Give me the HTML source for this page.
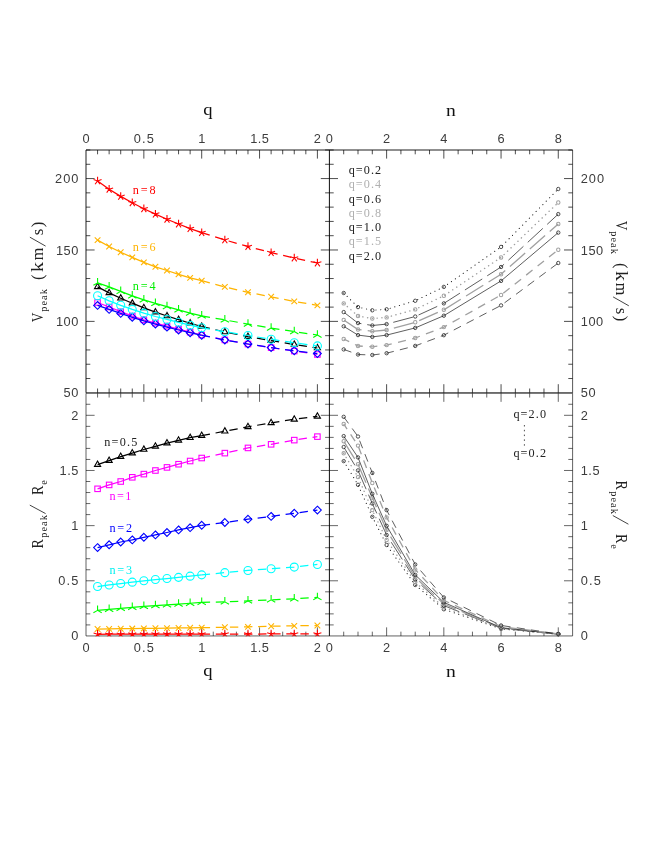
<!DOCTYPE html>
<html><head><meta charset="utf-8"><title>chart</title>
<style>html,body{margin:0;padding:0;background:#fff}svg{display:block}</style>
</head><body>
<svg width="654" height="846" viewBox="0 0 654 846">
<rect width="654" height="846" fill="#fff"/>
<path d="M97.57 150L97.57 154.3M97.57 392.8L97.57 388.5M109.14 150L109.14 154.3M109.14 392.8L109.14 388.5M120.71 150L120.71 154.3M120.71 392.8L120.71 388.5M132.28 150L132.28 154.3M132.28 392.8L132.28 388.5M143.85 150L143.85 158.6M143.85 392.8L143.85 384.2M155.42 150L155.42 154.3M155.42 392.8L155.42 388.5M166.99 150L166.99 154.3M166.99 392.8L166.99 388.5M178.56 150L178.56 154.3M178.56 392.8L178.56 388.5M190.13 150L190.13 154.3M190.13 392.8L190.13 388.5M201.7 150L201.7 158.6M201.7 392.8L201.7 384.2M213.27 150L213.27 154.3M213.27 392.8L213.27 388.5M224.84 150L224.84 154.3M224.84 392.8L224.84 388.5M236.41 150L236.41 154.3M236.41 392.8L236.41 388.5M247.98 150L247.98 154.3M247.98 392.8L247.98 388.5M259.55 150L259.55 158.6M259.55 392.8L259.55 384.2M271.12 150L271.12 154.3M271.12 392.8L271.12 388.5M282.69 150L282.69 154.3M282.69 392.8L282.69 388.5M294.26 150L294.26 154.3M294.26 392.8L294.26 388.5M305.83 150L305.83 154.3M305.83 392.8L305.83 388.5M317.4 150L317.4 158.6M317.4 392.8L317.4 384.2M343.7 150L343.7 154.3M343.7 392.8L343.7 388.5M358.01 150L358.01 154.3M358.01 392.8L358.01 388.5M372.31 150L372.31 154.3M372.31 392.8L372.31 388.5M386.62 150L386.62 158.6M386.62 392.8L386.62 384.2M400.92 150L400.92 154.3M400.92 392.8L400.92 388.5M415.23 150L415.23 154.3M415.23 392.8L415.23 388.5M429.53 150L429.53 154.3M429.53 392.8L429.53 388.5M443.84 150L443.84 158.6M443.84 392.8L443.84 384.2M458.14 150L458.14 154.3M458.14 392.8L458.14 388.5M472.45 150L472.45 154.3M472.45 392.8L472.45 388.5M486.75 150L486.75 154.3M486.75 392.8L486.75 388.5M501.06 150L501.06 158.6M501.06 392.8L501.06 384.2M515.37 150L515.37 154.3M515.37 392.8L515.37 388.5M529.67 150L529.67 154.3M529.67 392.8L529.67 388.5M543.97 150L543.97 154.3M543.97 392.8L543.97 388.5M558.28 150L558.28 158.6M558.28 392.8L558.28 384.2M86 378.52L90.3 378.52M329.4 378.52L325.1 378.52M329.4 378.52L333.7 378.52M572.6 378.52L568.3 378.52M86 364.24L90.3 364.24M329.4 364.24L325.1 364.24M329.4 364.24L333.7 364.24M572.6 364.24L568.3 364.24M86 349.95L90.3 349.95M329.4 349.95L325.1 349.95M329.4 349.95L333.7 349.95M572.6 349.95L568.3 349.95M86 335.67L90.3 335.67M329.4 335.67L325.1 335.67M329.4 335.67L333.7 335.67M572.6 335.67L568.3 335.67M86 321.39L94.6 321.39M329.4 321.39L320.8 321.39M329.4 321.39L338 321.39M572.6 321.39L564 321.39M86 307.11L90.3 307.11M329.4 307.11L325.1 307.11M329.4 307.11L333.7 307.11M572.6 307.11L568.3 307.11M86 292.83L90.3 292.83M329.4 292.83L325.1 292.83M329.4 292.83L333.7 292.83M572.6 292.83L568.3 292.83M86 278.54L90.3 278.54M329.4 278.54L325.1 278.54M329.4 278.54L333.7 278.54M572.6 278.54L568.3 278.54M86 264.26L90.3 264.26M329.4 264.26L325.1 264.26M329.4 264.26L333.7 264.26M572.6 264.26L568.3 264.26M86 249.98L94.6 249.98M329.4 249.98L320.8 249.98M329.4 249.98L338 249.98M572.6 249.98L564 249.98M86 235.7L90.3 235.7M329.4 235.7L325.1 235.7M329.4 235.7L333.7 235.7M572.6 235.7L568.3 235.7M86 221.42L90.3 221.42M329.4 221.42L325.1 221.42M329.4 221.42L333.7 221.42M572.6 221.42L568.3 221.42M86 207.13L90.3 207.13M329.4 207.13L325.1 207.13M329.4 207.13L333.7 207.13M572.6 207.13L568.3 207.13M86 192.85L90.3 192.85M329.4 192.85L325.1 192.85M329.4 192.85L333.7 192.85M572.6 192.85L568.3 192.85M86 178.57L94.6 178.57M329.4 178.57L320.8 178.57M329.4 178.57L338 178.57M572.6 178.57L564 178.57M86 164.29L90.3 164.29M329.4 164.29L325.1 164.29M329.4 164.29L333.7 164.29M572.6 164.29L568.3 164.29M86 150L90.3 150M325.1 150L333.7 150M568.3 150L572.6 150" stroke="#000" stroke-width="0.7" fill="none"/>
<path d="M97.57 393.25L97.57 397.55M97.57 635.95L97.57 631.65M109.14 393.25L109.14 397.55M109.14 635.95L109.14 631.65M120.71 393.25L120.71 397.55M120.71 635.95L120.71 631.65M132.28 393.25L132.28 397.55M132.28 635.95L132.28 631.65M143.85 393.25L143.85 401.85M143.85 635.95L143.85 627.35M155.42 393.25L155.42 397.55M155.42 635.95L155.42 631.65M166.99 393.25L166.99 397.55M166.99 635.95L166.99 631.65M178.56 393.25L178.56 397.55M178.56 635.95L178.56 631.65M190.13 393.25L190.13 397.55M190.13 635.95L190.13 631.65M201.7 393.25L201.7 401.85M201.7 635.95L201.7 627.35M213.27 393.25L213.27 397.55M213.27 635.95L213.27 631.65M224.84 393.25L224.84 397.55M224.84 635.95L224.84 631.65M236.41 393.25L236.41 397.55M236.41 635.95L236.41 631.65M247.98 393.25L247.98 397.55M247.98 635.95L247.98 631.65M259.55 393.25L259.55 401.85M259.55 635.95L259.55 627.35M271.12 393.25L271.12 397.55M271.12 635.95L271.12 631.65M282.69 393.25L282.69 397.55M282.69 635.95L282.69 631.65M294.26 393.25L294.26 397.55M294.26 635.95L294.26 631.65M305.83 393.25L305.83 397.55M305.83 635.95L305.83 631.65M317.4 393.25L317.4 401.85M317.4 635.95L317.4 627.35M343.7 393.25L343.7 397.55M343.7 635.95L343.7 631.65M358.01 393.25L358.01 397.55M358.01 635.95L358.01 631.65M372.31 393.25L372.31 397.55M372.31 635.95L372.31 631.65M386.62 393.25L386.62 401.85M386.62 635.95L386.62 627.35M400.92 393.25L400.92 397.55M400.92 635.95L400.92 631.65M415.23 393.25L415.23 397.55M415.23 635.95L415.23 631.65M429.53 393.25L429.53 397.55M429.53 635.95L429.53 631.65M443.84 393.25L443.84 401.85M443.84 635.95L443.84 627.35M458.14 393.25L458.14 397.55M458.14 635.95L458.14 631.65M472.45 393.25L472.45 397.55M472.45 635.95L472.45 631.65M486.75 393.25L486.75 397.55M486.75 635.95L486.75 631.65M501.06 393.25L501.06 401.85M501.06 635.95L501.06 627.35M515.37 393.25L515.37 397.55M515.37 635.95L515.37 631.65M529.67 393.25L529.67 397.55M529.67 635.95L529.67 631.65M543.97 393.25L543.97 397.55M543.97 635.95L543.97 631.65M558.28 393.25L558.28 401.85M558.28 635.95L558.28 627.35M86 624.92L90.3 624.92M329.4 624.92L325.1 624.92M329.4 624.92L333.7 624.92M572.6 624.92L568.3 624.92M86 613.89L90.3 613.89M329.4 613.89L325.1 613.89M329.4 613.89L333.7 613.89M572.6 613.89L568.3 613.89M86 602.85L90.3 602.85M329.4 602.85L325.1 602.85M329.4 602.85L333.7 602.85M572.6 602.85L568.3 602.85M86 591.82L90.3 591.82M329.4 591.82L325.1 591.82M329.4 591.82L333.7 591.82M572.6 591.82L568.3 591.82M86 580.79L94.6 580.79M329.4 580.79L320.8 580.79M329.4 580.79L338 580.79M572.6 580.79L564 580.79M86 569.76L90.3 569.76M329.4 569.76L325.1 569.76M329.4 569.76L333.7 569.76M572.6 569.76L568.3 569.76M86 558.73L90.3 558.73M329.4 558.73L325.1 558.73M329.4 558.73L333.7 558.73M572.6 558.73L568.3 558.73M86 547.7L90.3 547.7M329.4 547.7L325.1 547.7M329.4 547.7L333.7 547.7M572.6 547.7L568.3 547.7M86 536.66L90.3 536.66M329.4 536.66L325.1 536.66M329.4 536.66L333.7 536.66M572.6 536.66L568.3 536.66M86 525.63L94.6 525.63M329.4 525.63L320.8 525.63M329.4 525.63L338 525.63M572.6 525.63L564 525.63M86 514.6L90.3 514.6M329.4 514.6L325.1 514.6M329.4 514.6L333.7 514.6M572.6 514.6L568.3 514.6M86 503.57L90.3 503.57M329.4 503.57L325.1 503.57M329.4 503.57L333.7 503.57M572.6 503.57L568.3 503.57M86 492.54L90.3 492.54M329.4 492.54L325.1 492.54M329.4 492.54L333.7 492.54M572.6 492.54L568.3 492.54M86 481.5L90.3 481.5M329.4 481.5L325.1 481.5M329.4 481.5L333.7 481.5M572.6 481.5L568.3 481.5M86 470.47L94.6 470.47M329.4 470.47L320.8 470.47M329.4 470.47L338 470.47M572.6 470.47L564 470.47M86 459.44L90.3 459.44M329.4 459.44L325.1 459.44M329.4 459.44L333.7 459.44M572.6 459.44L568.3 459.44M86 448.41L90.3 448.41M329.4 448.41L325.1 448.41M329.4 448.41L333.7 448.41M572.6 448.41L568.3 448.41M86 437.38L90.3 437.38M329.4 437.38L325.1 437.38M329.4 437.38L333.7 437.38M572.6 437.38L568.3 437.38M86 426.35L90.3 426.35M329.4 426.35L325.1 426.35M329.4 426.35L333.7 426.35M572.6 426.35L568.3 426.35M86 415.31L94.6 415.31M329.4 415.31L320.8 415.31M329.4 415.31L338 415.31M572.6 415.31L564 415.31M86 404.28L90.3 404.28M329.4 404.28L325.1 404.28M329.4 404.28L333.7 404.28M572.6 404.28L568.3 404.28" stroke="#000" stroke-width="0.6" fill="none"/>
<path d="M86 392.8L86 150L572.6 150" fill="none" stroke="#000" stroke-width="0.88"/>
<path d="M572.6 150L572.6 392.8" fill="none" stroke="#000" stroke-width="0.66"/>
<path d="M86 393.25L86 635.95L572.6 635.95L572.6 393.25" fill="none" stroke="#000" stroke-width="0.62"/>
<line x1="329.4" y1="150" x2="329.4" y2="635.95" stroke="#000" stroke-width="0.95"/>
<line x1="86" y1="392.8" x2="572.6" y2="392.8" stroke="#000" stroke-width="0.75"/>
<line x1="86" y1="393.25" x2="572.6" y2="393.25" stroke="#000" stroke-width="0.5"/>
<defs><clipPath id="cb"><rect x="86" y="392.8" width="486.6" height="243.55"/></clipPath></defs>
<g>
<polyline points="97.57,286.9 109.14,292.9 120.71,298.27 132.28,303.2 143.85,307.82 155.42,312.1 166.99,316.02 178.56,319.7 190.13,323.23 201.7,326.5" fill="none" stroke="#000000" stroke-width="1.25"/>
<polyline points="201.7,326.5 224.84,332 247.98,336.6 271.12,340.6 294.26,344.5 317.4,348" fill="none" stroke="#000000" stroke-width="1.25" stroke-dasharray="8.4 5.7"/>
<polygon points="97.57,283.35 94.5,288.67 100.64,288.67" fill="none" stroke="#000000" stroke-width="1.1"/>
<polygon points="109.14,289.35 106.07,294.67 112.21,294.67" fill="none" stroke="#000000" stroke-width="1.1"/>
<polygon points="120.71,294.72 117.64,300.05 123.78,300.05" fill="none" stroke="#000000" stroke-width="1.1"/>
<polygon points="132.28,299.65 129.21,304.97 135.35,304.97" fill="none" stroke="#000000" stroke-width="1.1"/>
<polygon points="143.85,304.27 140.78,309.59 146.92,309.59" fill="none" stroke="#000000" stroke-width="1.1"/>
<polygon points="155.42,308.55 152.35,313.88 158.49,313.88" fill="none" stroke="#000000" stroke-width="1.1"/>
<polygon points="166.99,312.47 163.92,317.8 170.06,317.8" fill="none" stroke="#000000" stroke-width="1.1"/>
<polygon points="178.56,316.15 175.49,321.47 181.63,321.47" fill="none" stroke="#000000" stroke-width="1.1"/>
<polygon points="190.13,319.68 187.06,325 193.2,325" fill="none" stroke="#000000" stroke-width="1.1"/>
<polygon points="201.7,322.95 198.63,328.27 204.77,328.27" fill="none" stroke="#000000" stroke-width="1.1"/>
<polygon points="224.84,328.45 221.77,333.77 227.91,333.77" fill="none" stroke="#000000" stroke-width="1.1"/>
<polygon points="247.98,333.05 244.91,338.38 251.05,338.38" fill="none" stroke="#000000" stroke-width="1.1"/>
<polygon points="271.12,337.05 268.05,342.38 274.19,342.38" fill="none" stroke="#000000" stroke-width="1.1"/>
<polygon points="294.26,340.95 291.19,346.27 297.33,346.27" fill="none" stroke="#000000" stroke-width="1.1"/>
<polygon points="317.4,344.45 314.33,349.77 320.47,349.77" fill="none" stroke="#000000" stroke-width="1.1"/>
<polyline points="97.57,302.5 109.14,307 120.71,311.7 132.28,316.1 143.85,319.83 155.42,323.1 166.99,326.19 178.56,329.2 190.13,332.17 201.7,335" fill="none" stroke="#ff00ff" stroke-width="1.25"/>
<polyline points="201.7,335 224.84,339.93 247.98,344.05 271.12,347.66 294.26,351.04 317.4,354.5" fill="none" stroke="#ff00ff" stroke-width="1.25" stroke-dasharray="8.4 5.7"/>
<rect x="94.82" y="299.75" width="5.5" height="5.5" fill="none" stroke="#ff00ff" stroke-width="1.1"/>
<rect x="106.39" y="304.25" width="5.5" height="5.5" fill="none" stroke="#ff00ff" stroke-width="1.1"/>
<rect x="117.96" y="308.95" width="5.5" height="5.5" fill="none" stroke="#ff00ff" stroke-width="1.1"/>
<rect x="129.53" y="313.35" width="5.5" height="5.5" fill="none" stroke="#ff00ff" stroke-width="1.1"/>
<rect x="141.1" y="317.08" width="5.5" height="5.5" fill="none" stroke="#ff00ff" stroke-width="1.1"/>
<rect x="152.67" y="320.35" width="5.5" height="5.5" fill="none" stroke="#ff00ff" stroke-width="1.1"/>
<rect x="164.24" y="323.44" width="5.5" height="5.5" fill="none" stroke="#ff00ff" stroke-width="1.1"/>
<rect x="175.81" y="326.45" width="5.5" height="5.5" fill="none" stroke="#ff00ff" stroke-width="1.1"/>
<rect x="187.38" y="329.42" width="5.5" height="5.5" fill="none" stroke="#ff00ff" stroke-width="1.1"/>
<rect x="198.95" y="332.25" width="5.5" height="5.5" fill="none" stroke="#ff00ff" stroke-width="1.1"/>
<rect x="222.09" y="337.18" width="5.5" height="5.5" fill="none" stroke="#ff00ff" stroke-width="1.1"/>
<rect x="245.23" y="341.3" width="5.5" height="5.5" fill="none" stroke="#ff00ff" stroke-width="1.1"/>
<rect x="268.37" y="344.91" width="5.5" height="5.5" fill="none" stroke="#ff00ff" stroke-width="1.1"/>
<rect x="291.51" y="348.29" width="5.5" height="5.5" fill="none" stroke="#ff00ff" stroke-width="1.1"/>
<rect x="314.65" y="351.75" width="5.5" height="5.5" fill="none" stroke="#ff00ff" stroke-width="1.1"/>
<polyline points="97.57,305.4 109.14,309.4 120.71,313.43 132.28,317.3 143.85,320.84 155.42,324.1 166.99,327.14 178.56,330 190.13,332.72 201.7,335.3" fill="none" stroke="#0000ff" stroke-width="1.25"/>
<polyline points="201.7,335.3 224.84,340 247.98,344 271.12,347.6 294.26,350.8 317.4,353.6" fill="none" stroke="#0000ff" stroke-width="1.25" stroke-dasharray="8.4 5.7"/>
<polygon points="97.57,301.5 101.47,305.4 97.57,309.3 93.67,305.4" fill="none" stroke="#0000ff" stroke-width="1.1"/>
<polygon points="109.14,305.5 113.04,309.4 109.14,313.3 105.24,309.4" fill="none" stroke="#0000ff" stroke-width="1.1"/>
<polygon points="120.71,309.53 124.61,313.43 120.71,317.33 116.81,313.43" fill="none" stroke="#0000ff" stroke-width="1.1"/>
<polygon points="132.28,313.4 136.18,317.3 132.28,321.2 128.38,317.3" fill="none" stroke="#0000ff" stroke-width="1.1"/>
<polygon points="143.85,316.94 147.75,320.84 143.85,324.74 139.95,320.84" fill="none" stroke="#0000ff" stroke-width="1.1"/>
<polygon points="155.42,320.2 159.32,324.1 155.42,328 151.52,324.1" fill="none" stroke="#0000ff" stroke-width="1.1"/>
<polygon points="166.99,323.24 170.89,327.14 166.99,331.04 163.09,327.14" fill="none" stroke="#0000ff" stroke-width="1.1"/>
<polygon points="178.56,326.1 182.46,330 178.56,333.9 174.66,330" fill="none" stroke="#0000ff" stroke-width="1.1"/>
<polygon points="190.13,328.82 194.03,332.72 190.13,336.62 186.23,332.72" fill="none" stroke="#0000ff" stroke-width="1.1"/>
<polygon points="201.7,331.4 205.6,335.3 201.7,339.2 197.8,335.3" fill="none" stroke="#0000ff" stroke-width="1.1"/>
<polygon points="224.84,336.1 228.74,340 224.84,343.9 220.94,340" fill="none" stroke="#0000ff" stroke-width="1.1"/>
<polygon points="247.98,340.1 251.88,344 247.98,347.9 244.08,344" fill="none" stroke="#0000ff" stroke-width="1.1"/>
<polygon points="271.12,343.7 275.02,347.6 271.12,351.5 267.22,347.6" fill="none" stroke="#0000ff" stroke-width="1.1"/>
<polygon points="294.26,346.9 298.16,350.8 294.26,354.7 290.36,350.8" fill="none" stroke="#0000ff" stroke-width="1.1"/>
<polygon points="317.4,349.7 321.3,353.6 317.4,357.5 313.5,353.6" fill="none" stroke="#0000ff" stroke-width="1.1"/>
<polyline points="97.57,295.8 109.14,300.8 120.71,305.31 132.28,309.4 143.85,313.14 155.42,316.5 166.99,319.47 178.56,322.3 190.13,325.18 201.7,327.8" fill="none" stroke="#00ffff" stroke-width="1.25"/>
<polyline points="201.7,327.8 224.84,331.7 247.98,335.5 271.12,339.2 294.26,342.8 317.4,345.9" fill="none" stroke="#00ffff" stroke-width="1.25" stroke-dasharray="8.4 5.7"/>
<circle cx="97.57" cy="295.8" r="4" fill="none" stroke="#00ffff" stroke-width="1.1"/>
<circle cx="109.14" cy="300.8" r="4" fill="none" stroke="#00ffff" stroke-width="1.1"/>
<circle cx="120.71" cy="305.31" r="4" fill="none" stroke="#00ffff" stroke-width="1.1"/>
<circle cx="132.28" cy="309.4" r="4" fill="none" stroke="#00ffff" stroke-width="1.1"/>
<circle cx="143.85" cy="313.14" r="4" fill="none" stroke="#00ffff" stroke-width="1.1"/>
<circle cx="155.42" cy="316.5" r="4" fill="none" stroke="#00ffff" stroke-width="1.1"/>
<circle cx="166.99" cy="319.47" r="4" fill="none" stroke="#00ffff" stroke-width="1.1"/>
<circle cx="178.56" cy="322.3" r="4" fill="none" stroke="#00ffff" stroke-width="1.1"/>
<circle cx="190.13" cy="325.18" r="4" fill="none" stroke="#00ffff" stroke-width="1.1"/>
<circle cx="201.7" cy="327.8" r="4" fill="none" stroke="#00ffff" stroke-width="1.1"/>
<circle cx="224.84" cy="331.7" r="4" fill="none" stroke="#00ffff" stroke-width="1.1"/>
<circle cx="247.98" cy="335.5" r="4" fill="none" stroke="#00ffff" stroke-width="1.1"/>
<circle cx="271.12" cy="339.2" r="4" fill="none" stroke="#00ffff" stroke-width="1.1"/>
<circle cx="294.26" cy="342.8" r="4" fill="none" stroke="#00ffff" stroke-width="1.1"/>
<circle cx="317.4" cy="345.9" r="4" fill="none" stroke="#00ffff" stroke-width="1.1"/>
<polyline points="97.57,282.9 109.14,286.9 120.71,291.36 132.28,295.8 143.85,299.82 155.42,303.4 166.99,306.64 178.56,309.8 190.13,313.03 201.7,315.9" fill="none" stroke="#00ff00" stroke-width="1.25"/>
<polyline points="201.7,315.9 224.84,319.9 247.98,324.1 271.12,328.1 294.26,331.6 317.4,335" fill="none" stroke="#00ff00" stroke-width="1.25" stroke-dasharray="8.4 5.7"/>
<path d="M97.57 282.9L97.57 278.1M97.57 282.9L93.41 285.3M97.57 282.9L101.73 285.3" stroke="#00ff00" stroke-width="1.1" fill="none"/>
<path d="M109.14 286.9L109.14 282.1M109.14 286.9L104.98 289.3M109.14 286.9L113.3 289.3" stroke="#00ff00" stroke-width="1.1" fill="none"/>
<path d="M120.71 291.36L120.71 286.56M120.71 291.36L116.55 293.76M120.71 291.36L124.87 293.76" stroke="#00ff00" stroke-width="1.1" fill="none"/>
<path d="M132.28 295.8L132.28 291M132.28 295.8L128.12 298.2M132.28 295.8L136.44 298.2" stroke="#00ff00" stroke-width="1.1" fill="none"/>
<path d="M143.85 299.82L143.85 295.02M143.85 299.82L139.69 302.22M143.85 299.82L148.01 302.22" stroke="#00ff00" stroke-width="1.1" fill="none"/>
<path d="M155.42 303.4L155.42 298.6M155.42 303.4L151.26 305.8M155.42 303.4L159.58 305.8" stroke="#00ff00" stroke-width="1.1" fill="none"/>
<path d="M166.99 306.64L166.99 301.84M166.99 306.64L162.83 309.04M166.99 306.64L171.15 309.04" stroke="#00ff00" stroke-width="1.1" fill="none"/>
<path d="M178.56 309.8L178.56 305M178.56 309.8L174.4 312.2M178.56 309.8L182.72 312.2" stroke="#00ff00" stroke-width="1.1" fill="none"/>
<path d="M190.13 313.03L190.13 308.23M190.13 313.03L185.97 315.43M190.13 313.03L194.29 315.43" stroke="#00ff00" stroke-width="1.1" fill="none"/>
<path d="M201.7 315.9L201.7 311.1M201.7 315.9L197.54 318.3M201.7 315.9L205.86 318.3" stroke="#00ff00" stroke-width="1.1" fill="none"/>
<path d="M224.84 319.9L224.84 315.1M224.84 319.9L220.68 322.3M224.84 319.9L229 322.3" stroke="#00ff00" stroke-width="1.1" fill="none"/>
<path d="M247.98 324.1L247.98 319.3M247.98 324.1L243.82 326.5M247.98 324.1L252.14 326.5" stroke="#00ff00" stroke-width="1.1" fill="none"/>
<path d="M271.12 328.1L271.12 323.3M271.12 328.1L266.96 330.5M271.12 328.1L275.28 330.5" stroke="#00ff00" stroke-width="1.1" fill="none"/>
<path d="M294.26 331.6L294.26 326.8M294.26 331.6L290.1 334M294.26 331.6L298.42 334" stroke="#00ff00" stroke-width="1.1" fill="none"/>
<path d="M317.4 335L317.4 330.2M317.4 335L313.24 337.4M317.4 335L321.56 337.4" stroke="#00ff00" stroke-width="1.1" fill="none"/>
<polyline points="97.57,240.1 109.14,246.5 120.71,252.2 132.28,257.4 143.85,262.4 155.42,266.8 166.99,270.5 178.56,274.3 190.13,277.9 201.7,280.7" fill="none" stroke="#ffb400" stroke-width="1.25"/>
<polyline points="201.7,280.7 224.84,286.9 247.98,292.3 271.12,296.8 294.26,301.4 317.4,305.4" fill="none" stroke="#ffb400" stroke-width="1.25" stroke-dasharray="8.4 5.7"/>
<path d="M94.74 237.27L100.4 242.93M94.74 242.93L100.4 237.27" stroke="#ffb400" stroke-width="1.1" fill="none"/>
<path d="M106.31 243.67L111.97 249.33M106.31 249.33L111.97 243.67" stroke="#ffb400" stroke-width="1.1" fill="none"/>
<path d="M117.88 249.37L123.54 255.03M117.88 255.03L123.54 249.37" stroke="#ffb400" stroke-width="1.1" fill="none"/>
<path d="M129.45 254.57L135.11 260.23M129.45 260.23L135.11 254.57" stroke="#ffb400" stroke-width="1.1" fill="none"/>
<path d="M141.02 259.57L146.68 265.23M141.02 265.23L146.68 259.57" stroke="#ffb400" stroke-width="1.1" fill="none"/>
<path d="M152.59 263.97L158.25 269.63M152.59 269.63L158.25 263.97" stroke="#ffb400" stroke-width="1.1" fill="none"/>
<path d="M164.16 267.67L169.82 273.33M164.16 273.33L169.82 267.67" stroke="#ffb400" stroke-width="1.1" fill="none"/>
<path d="M175.73 271.47L181.39 277.13M175.73 277.13L181.39 271.47" stroke="#ffb400" stroke-width="1.1" fill="none"/>
<path d="M187.3 275.07L192.96 280.73M187.3 280.73L192.96 275.07" stroke="#ffb400" stroke-width="1.1" fill="none"/>
<path d="M198.87 277.87L204.53 283.53M198.87 283.53L204.53 277.87" stroke="#ffb400" stroke-width="1.1" fill="none"/>
<path d="M222.01 284.07L227.67 289.73M222.01 289.73L227.67 284.07" stroke="#ffb400" stroke-width="1.1" fill="none"/>
<path d="M245.15 289.47L250.81 295.13M245.15 295.13L250.81 289.47" stroke="#ffb400" stroke-width="1.1" fill="none"/>
<path d="M268.29 293.97L273.95 299.63M268.29 299.63L273.95 293.97" stroke="#ffb400" stroke-width="1.1" fill="none"/>
<path d="M291.43 298.57L297.09 304.23M291.43 304.23L297.09 298.57" stroke="#ffb400" stroke-width="1.1" fill="none"/>
<path d="M314.57 302.57L320.23 308.23M314.57 308.23L320.23 302.57" stroke="#ffb400" stroke-width="1.1" fill="none"/>
<polyline points="97.57,180.9 109.14,189.2 120.71,196.4 132.28,202.7 143.85,208.7 155.42,214.1 166.99,219.2 178.56,224 190.13,228.6 201.7,232.6" fill="none" stroke="#ff0000" stroke-width="1.25"/>
<polyline points="201.7,232.6 224.84,239.9 247.98,246.5 271.12,252.6 294.26,258 317.4,263" fill="none" stroke="#ff0000" stroke-width="1.25" stroke-dasharray="8.4 5.7"/>
<path d="M97.57 180.9L97.57 176.7M97.57 180.9L93.58 179.6M97.57 180.9L95.1 184.3M97.57 180.9L100.04 184.3M97.57 180.9L101.56 179.6" stroke="#ff0000" stroke-width="1.1" fill="none"/>
<path d="M109.14 189.2L109.14 185M109.14 189.2L105.15 187.9M109.14 189.2L106.67 192.6M109.14 189.2L111.61 192.6M109.14 189.2L113.13 187.9" stroke="#ff0000" stroke-width="1.1" fill="none"/>
<path d="M120.71 196.4L120.71 192.2M120.71 196.4L116.72 195.1M120.71 196.4L118.24 199.8M120.71 196.4L123.18 199.8M120.71 196.4L124.7 195.1" stroke="#ff0000" stroke-width="1.1" fill="none"/>
<path d="M132.28 202.7L132.28 198.5M132.28 202.7L128.29 201.4M132.28 202.7L129.81 206.1M132.28 202.7L134.75 206.1M132.28 202.7L136.27 201.4" stroke="#ff0000" stroke-width="1.1" fill="none"/>
<path d="M143.85 208.7L143.85 204.5M143.85 208.7L139.86 207.4M143.85 208.7L141.38 212.1M143.85 208.7L146.32 212.1M143.85 208.7L147.84 207.4" stroke="#ff0000" stroke-width="1.1" fill="none"/>
<path d="M155.42 214.1L155.42 209.9M155.42 214.1L151.43 212.8M155.42 214.1L152.95 217.5M155.42 214.1L157.89 217.5M155.42 214.1L159.41 212.8" stroke="#ff0000" stroke-width="1.1" fill="none"/>
<path d="M166.99 219.2L166.99 215M166.99 219.2L163 217.9M166.99 219.2L164.52 222.6M166.99 219.2L169.46 222.6M166.99 219.2L170.98 217.9" stroke="#ff0000" stroke-width="1.1" fill="none"/>
<path d="M178.56 224L178.56 219.8M178.56 224L174.57 222.7M178.56 224L176.09 227.4M178.56 224L181.03 227.4M178.56 224L182.55 222.7" stroke="#ff0000" stroke-width="1.1" fill="none"/>
<path d="M190.13 228.6L190.13 224.4M190.13 228.6L186.14 227.3M190.13 228.6L187.66 232M190.13 228.6L192.6 232M190.13 228.6L194.12 227.3" stroke="#ff0000" stroke-width="1.1" fill="none"/>
<path d="M201.7 232.6L201.7 228.4M201.7 232.6L197.71 231.3M201.7 232.6L199.23 236M201.7 232.6L204.17 236M201.7 232.6L205.69 231.3" stroke="#ff0000" stroke-width="1.1" fill="none"/>
<path d="M224.84 239.9L224.84 235.7M224.84 239.9L220.85 238.6M224.84 239.9L222.37 243.3M224.84 239.9L227.31 243.3M224.84 239.9L228.83 238.6" stroke="#ff0000" stroke-width="1.1" fill="none"/>
<path d="M247.98 246.5L247.98 242.3M247.98 246.5L243.99 245.2M247.98 246.5L245.51 249.9M247.98 246.5L250.45 249.9M247.98 246.5L251.97 245.2" stroke="#ff0000" stroke-width="1.1" fill="none"/>
<path d="M271.12 252.6L271.12 248.4M271.12 252.6L267.13 251.3M271.12 252.6L268.65 256M271.12 252.6L273.59 256M271.12 252.6L275.11 251.3" stroke="#ff0000" stroke-width="1.1" fill="none"/>
<path d="M294.26 258L294.26 253.8M294.26 258L290.27 256.7M294.26 258L291.79 261.4M294.26 258L296.73 261.4M294.26 258L298.25 256.7" stroke="#ff0000" stroke-width="1.1" fill="none"/>
<path d="M317.4 263L317.4 258.8M317.4 263L313.41 261.7M317.4 263L314.93 266.4M317.4 263L319.87 266.4M317.4 263L321.39 261.7" stroke="#ff0000" stroke-width="1.1" fill="none"/>
</g>
<g clip-path="url(#cb)">
<polyline points="97.57,464.61 109.14,460.62 120.71,456.62 132.28,453.12 143.85,449.52 155.42,446.32 166.99,443.12 178.56,440.32 190.13,437.73 201.7,435.63" fill="none" stroke="#000000" stroke-width="1.25"/>
<polyline points="201.7,435.63 224.84,431.23 247.98,426.83 271.12,422.83 294.26,419.33 317.4,416.33" fill="none" stroke="#000000" stroke-width="1.25" stroke-dasharray="8.4 5.7"/>
<polygon points="97.57,461.06 94.5,466.39 100.64,466.39" fill="none" stroke="#000000" stroke-width="1.1"/>
<polygon points="109.14,457.07 106.07,462.39 112.21,462.39" fill="none" stroke="#000000" stroke-width="1.1"/>
<polygon points="120.71,453.07 117.64,458.39 123.78,458.39" fill="none" stroke="#000000" stroke-width="1.1"/>
<polygon points="132.28,449.57 129.21,454.89 135.35,454.89" fill="none" stroke="#000000" stroke-width="1.1"/>
<polygon points="143.85,445.97 140.78,451.3 146.92,451.3" fill="none" stroke="#000000" stroke-width="1.1"/>
<polygon points="155.42,442.77 152.35,448.1 158.49,448.1" fill="none" stroke="#000000" stroke-width="1.1"/>
<polygon points="166.99,439.57 163.92,444.9 170.06,444.9" fill="none" stroke="#000000" stroke-width="1.1"/>
<polygon points="178.56,436.77 175.49,442.1 181.63,442.1" fill="none" stroke="#000000" stroke-width="1.1"/>
<polygon points="190.13,434.18 187.06,439.5 193.2,439.5" fill="none" stroke="#000000" stroke-width="1.1"/>
<polygon points="201.7,432.08 198.63,437.4 204.77,437.4" fill="none" stroke="#000000" stroke-width="1.1"/>
<polygon points="224.84,427.68 221.77,433 227.91,433" fill="none" stroke="#000000" stroke-width="1.1"/>
<polygon points="247.98,423.28 244.91,428.6 251.05,428.6" fill="none" stroke="#000000" stroke-width="1.1"/>
<polygon points="271.12,419.28 268.05,424.61 274.19,424.61" fill="none" stroke="#000000" stroke-width="1.1"/>
<polygon points="294.26,415.78 291.19,421.11 297.33,421.11" fill="none" stroke="#000000" stroke-width="1.1"/>
<polygon points="317.4,412.78 314.33,418.11 320.47,418.11" fill="none" stroke="#000000" stroke-width="1.1"/>
<polyline points="97.57,488.81 109.14,484.91 120.71,481.51 132.28,477.31 143.85,474.11 155.42,470.51 166.99,467.41 178.56,464.22 190.13,461.02 201.7,458.02" fill="none" stroke="#ff00ff" stroke-width="1.25"/>
<polyline points="201.7,458.02 224.84,453.12 247.98,447.92 271.12,444.32 294.26,440.12 317.4,436.63" fill="none" stroke="#ff00ff" stroke-width="1.25" stroke-dasharray="8.4 5.7"/>
<rect x="94.82" y="486.06" width="5.5" height="5.5" fill="none" stroke="#ff00ff" stroke-width="1.1"/>
<rect x="106.39" y="482.16" width="5.5" height="5.5" fill="none" stroke="#ff00ff" stroke-width="1.1"/>
<rect x="117.96" y="478.76" width="5.5" height="5.5" fill="none" stroke="#ff00ff" stroke-width="1.1"/>
<rect x="129.53" y="474.56" width="5.5" height="5.5" fill="none" stroke="#ff00ff" stroke-width="1.1"/>
<rect x="141.1" y="471.36" width="5.5" height="5.5" fill="none" stroke="#ff00ff" stroke-width="1.1"/>
<rect x="152.67" y="467.76" width="5.5" height="5.5" fill="none" stroke="#ff00ff" stroke-width="1.1"/>
<rect x="164.24" y="464.66" width="5.5" height="5.5" fill="none" stroke="#ff00ff" stroke-width="1.1"/>
<rect x="175.81" y="461.47" width="5.5" height="5.5" fill="none" stroke="#ff00ff" stroke-width="1.1"/>
<rect x="187.38" y="458.27" width="5.5" height="5.5" fill="none" stroke="#ff00ff" stroke-width="1.1"/>
<rect x="198.95" y="455.27" width="5.5" height="5.5" fill="none" stroke="#ff00ff" stroke-width="1.1"/>
<rect x="222.09" y="450.37" width="5.5" height="5.5" fill="none" stroke="#ff00ff" stroke-width="1.1"/>
<rect x="245.23" y="445.17" width="5.5" height="5.5" fill="none" stroke="#ff00ff" stroke-width="1.1"/>
<rect x="268.37" y="441.57" width="5.5" height="5.5" fill="none" stroke="#ff00ff" stroke-width="1.1"/>
<rect x="291.51" y="437.37" width="5.5" height="5.5" fill="none" stroke="#ff00ff" stroke-width="1.1"/>
<rect x="314.65" y="433.88" width="5.5" height="5.5" fill="none" stroke="#ff00ff" stroke-width="1.1"/>
<polyline points="97.57,547.58 109.14,544.78 120.71,541.99 132.28,539.89 143.85,537.29 155.42,534.89 166.99,532.49 178.56,529.89 190.13,527.69 201.7,525.29" fill="none" stroke="#0000ff" stroke-width="1.25"/>
<polyline points="201.7,525.29 224.84,522.49 247.98,519.19 271.12,516.4 294.26,513.3 317.4,510.1" fill="none" stroke="#0000ff" stroke-width="1.25" stroke-dasharray="8.4 5.7"/>
<polygon points="97.57,543.68 101.47,547.58 97.57,551.48 93.67,547.58" fill="none" stroke="#0000ff" stroke-width="1.1"/>
<polygon points="109.14,540.88 113.04,544.78 109.14,548.68 105.24,544.78" fill="none" stroke="#0000ff" stroke-width="1.1"/>
<polygon points="120.71,538.09 124.61,541.99 120.71,545.89 116.81,541.99" fill="none" stroke="#0000ff" stroke-width="1.1"/>
<polygon points="132.28,535.99 136.18,539.89 132.28,543.79 128.38,539.89" fill="none" stroke="#0000ff" stroke-width="1.1"/>
<polygon points="143.85,533.39 147.75,537.29 143.85,541.19 139.95,537.29" fill="none" stroke="#0000ff" stroke-width="1.1"/>
<polygon points="155.42,530.99 159.32,534.89 155.42,538.79 151.52,534.89" fill="none" stroke="#0000ff" stroke-width="1.1"/>
<polygon points="166.99,528.59 170.89,532.49 166.99,536.39 163.09,532.49" fill="none" stroke="#0000ff" stroke-width="1.1"/>
<polygon points="178.56,525.99 182.46,529.89 178.56,533.79 174.66,529.89" fill="none" stroke="#0000ff" stroke-width="1.1"/>
<polygon points="190.13,523.79 194.03,527.69 190.13,531.59 186.23,527.69" fill="none" stroke="#0000ff" stroke-width="1.1"/>
<polygon points="201.7,521.39 205.6,525.29 201.7,529.19 197.8,525.29" fill="none" stroke="#0000ff" stroke-width="1.1"/>
<polygon points="224.84,518.59 228.74,522.49 224.84,526.39 220.94,522.49" fill="none" stroke="#0000ff" stroke-width="1.1"/>
<polygon points="247.98,515.29 251.88,519.19 247.98,523.09 244.08,519.19" fill="none" stroke="#0000ff" stroke-width="1.1"/>
<polygon points="271.12,512.5 275.02,516.4 271.12,520.3 267.22,516.4" fill="none" stroke="#0000ff" stroke-width="1.1"/>
<polygon points="294.26,509.4 298.16,513.3 294.26,517.2 290.36,513.3" fill="none" stroke="#0000ff" stroke-width="1.1"/>
<polygon points="317.4,506.2 321.3,510.1 317.4,514 313.5,510.1" fill="none" stroke="#0000ff" stroke-width="1.1"/>
<polyline points="97.57,586.57 109.14,584.97 120.71,583.57 132.28,582.17 143.85,580.77 155.42,579.57 166.99,578.57 178.56,577.37 190.13,576.17 201.7,574.87" fill="none" stroke="#00ffff" stroke-width="1.25"/>
<polyline points="201.7,574.87 224.84,572.67 247.98,570.47 271.12,568.68 294.26,567.08 317.4,564.48" fill="none" stroke="#00ffff" stroke-width="1.25" stroke-dasharray="8.4 5.7"/>
<circle cx="97.57" cy="586.57" r="4" fill="none" stroke="#00ffff" stroke-width="1.1"/>
<circle cx="109.14" cy="584.97" r="4" fill="none" stroke="#00ffff" stroke-width="1.1"/>
<circle cx="120.71" cy="583.57" r="4" fill="none" stroke="#00ffff" stroke-width="1.1"/>
<circle cx="132.28" cy="582.17" r="4" fill="none" stroke="#00ffff" stroke-width="1.1"/>
<circle cx="143.85" cy="580.77" r="4" fill="none" stroke="#00ffff" stroke-width="1.1"/>
<circle cx="155.42" cy="579.57" r="4" fill="none" stroke="#00ffff" stroke-width="1.1"/>
<circle cx="166.99" cy="578.57" r="4" fill="none" stroke="#00ffff" stroke-width="1.1"/>
<circle cx="178.56" cy="577.37" r="4" fill="none" stroke="#00ffff" stroke-width="1.1"/>
<circle cx="190.13" cy="576.17" r="4" fill="none" stroke="#00ffff" stroke-width="1.1"/>
<circle cx="201.7" cy="574.87" r="4" fill="none" stroke="#00ffff" stroke-width="1.1"/>
<circle cx="224.84" cy="572.67" r="4" fill="none" stroke="#00ffff" stroke-width="1.1"/>
<circle cx="247.98" cy="570.47" r="4" fill="none" stroke="#00ffff" stroke-width="1.1"/>
<circle cx="271.12" cy="568.68" r="4" fill="none" stroke="#00ffff" stroke-width="1.1"/>
<circle cx="294.26" cy="567.08" r="4" fill="none" stroke="#00ffff" stroke-width="1.1"/>
<circle cx="317.4" cy="564.48" r="4" fill="none" stroke="#00ffff" stroke-width="1.1"/>
<polyline points="97.57,610.36 109.14,609.27 120.71,608.31 132.28,607.35 143.85,606.4 155.42,605.58 166.99,604.89 178.56,604.07 190.13,603.25 201.7,602.36" fill="none" stroke="#00ff00" stroke-width="1.25"/>
<polyline points="201.7,602.36 224.84,601.86 247.98,600.86 271.12,599.86 294.26,598.86 317.4,597.46" fill="none" stroke="#00ff00" stroke-width="1.25" stroke-dasharray="8.4 5.7"/>
<path d="M97.57 610.36L97.57 605.56M97.57 610.36L93.41 612.76M97.57 610.36L101.73 612.76" stroke="#00ff00" stroke-width="1.1" fill="none"/>
<path d="M109.14 609.27L109.14 604.47M109.14 609.27L104.98 611.67M109.14 609.27L113.3 611.67" stroke="#00ff00" stroke-width="1.1" fill="none"/>
<path d="M120.71 608.31L120.71 603.51M120.71 608.31L116.55 610.71M120.71 608.31L124.87 610.71" stroke="#00ff00" stroke-width="1.1" fill="none"/>
<path d="M132.28 607.35L132.28 602.55M132.28 607.35L128.12 609.75M132.28 607.35L136.44 609.75" stroke="#00ff00" stroke-width="1.1" fill="none"/>
<path d="M143.85 606.4L143.85 601.6M143.85 606.4L139.69 608.8M143.85 606.4L148.01 608.8" stroke="#00ff00" stroke-width="1.1" fill="none"/>
<path d="M155.42 605.58L155.42 600.78M155.42 605.58L151.26 607.98M155.42 605.58L159.58 607.98" stroke="#00ff00" stroke-width="1.1" fill="none"/>
<path d="M166.99 604.89L166.99 600.09M166.99 604.89L162.83 607.29M166.99 604.89L171.15 607.29" stroke="#00ff00" stroke-width="1.1" fill="none"/>
<path d="M178.56 604.07L178.56 599.27M178.56 604.07L174.4 606.47M178.56 604.07L182.72 606.47" stroke="#00ff00" stroke-width="1.1" fill="none"/>
<path d="M190.13 603.25L190.13 598.45M190.13 603.25L185.97 605.65M190.13 603.25L194.29 605.65" stroke="#00ff00" stroke-width="1.1" fill="none"/>
<path d="M201.7 602.36L201.7 597.56M201.7 602.36L197.54 604.76M201.7 602.36L205.86 604.76" stroke="#00ff00" stroke-width="1.1" fill="none"/>
<path d="M224.84 601.86L224.84 597.06M224.84 601.86L220.68 604.26M224.84 601.86L229 604.26" stroke="#00ff00" stroke-width="1.1" fill="none"/>
<path d="M247.98 600.86L247.98 596.06M247.98 600.86L243.82 603.26M247.98 600.86L252.14 603.26" stroke="#00ff00" stroke-width="1.1" fill="none"/>
<path d="M271.12 599.86L271.12 595.06M271.12 599.86L266.96 602.26M271.12 599.86L275.28 602.26" stroke="#00ff00" stroke-width="1.1" fill="none"/>
<path d="M294.26 598.86L294.26 594.06M294.26 598.86L290.1 601.26M294.26 598.86L298.42 601.26" stroke="#00ff00" stroke-width="1.1" fill="none"/>
<path d="M317.4 597.46L317.4 592.66M317.4 597.46L313.24 599.86M317.4 597.46L321.56 599.86" stroke="#00ff00" stroke-width="1.1" fill="none"/>
<polyline points="97.57,629.05 109.14,628.9 120.71,628.74 132.28,628.59 143.85,628.43 155.42,628.28 166.99,628.12 178.56,627.96 190.13,627.81 201.7,627.65" fill="none" stroke="#ffb400" stroke-width="1.25"/>
<polyline points="201.7,627.65 224.84,627.25 247.98,626.85 271.12,626.25 294.26,625.85 317.4,625.45" fill="none" stroke="#ffb400" stroke-width="1.25" stroke-dasharray="8.4 5.7"/>
<path d="M94.74 626.22L100.4 631.88M94.74 631.88L100.4 626.22" stroke="#ffb400" stroke-width="1.1" fill="none"/>
<path d="M106.31 626.07L111.97 631.73M106.31 631.73L111.97 626.07" stroke="#ffb400" stroke-width="1.1" fill="none"/>
<path d="M117.88 625.91L123.54 631.57M117.88 631.57L123.54 625.91" stroke="#ffb400" stroke-width="1.1" fill="none"/>
<path d="M129.45 625.76L135.11 631.41M129.45 631.41L135.11 625.76" stroke="#ffb400" stroke-width="1.1" fill="none"/>
<path d="M141.02 625.6L146.68 631.26M141.02 631.26L146.68 625.6" stroke="#ffb400" stroke-width="1.1" fill="none"/>
<path d="M152.59 625.45L158.25 631.1M152.59 631.1L158.25 625.45" stroke="#ffb400" stroke-width="1.1" fill="none"/>
<path d="M164.16 625.29L169.82 630.95M164.16 630.95L169.82 625.29" stroke="#ffb400" stroke-width="1.1" fill="none"/>
<path d="M175.73 625.14L181.39 630.79M175.73 630.79L181.39 625.14" stroke="#ffb400" stroke-width="1.1" fill="none"/>
<path d="M187.3 624.98L192.96 630.64M187.3 630.64L192.96 624.98" stroke="#ffb400" stroke-width="1.1" fill="none"/>
<path d="M198.87 624.82L204.53 630.48M198.87 630.48L204.53 624.82" stroke="#ffb400" stroke-width="1.1" fill="none"/>
<path d="M222.01 624.42L227.67 630.08M222.01 630.08L227.67 624.42" stroke="#ffb400" stroke-width="1.1" fill="none"/>
<path d="M245.15 624.03L250.81 629.68M245.15 629.68L250.81 624.03" stroke="#ffb400" stroke-width="1.1" fill="none"/>
<path d="M268.29 623.43L273.95 629.08M268.29 629.08L273.95 623.43" stroke="#ffb400" stroke-width="1.1" fill="none"/>
<path d="M291.43 623.03L297.09 628.68M291.43 628.68L297.09 623.03" stroke="#ffb400" stroke-width="1.1" fill="none"/>
<path d="M314.57 622.63L320.23 628.28M314.57 628.28L320.23 622.63" stroke="#ffb400" stroke-width="1.1" fill="none"/>
<polyline points="97.57,634.25 109.14,634.23 120.71,634.21 132.28,634.18 143.85,634.16 155.42,634.14 166.99,634.12 178.56,634.1 190.13,634.07 201.7,634.05" fill="none" stroke="#ff0000" stroke-width="1.25"/>
<polyline points="201.7,634.05 224.84,634.05 247.98,634.05 271.12,633.95 294.26,633.95 317.4,633.95" fill="none" stroke="#ff0000" stroke-width="1.25" stroke-dasharray="8.4 5.7"/>
<path d="M97.57 634.25L97.57 630.05M97.57 634.25L93.58 632.95M97.57 634.25L95.1 637.65M97.57 634.25L100.04 637.65M97.57 634.25L101.56 632.95" stroke="#ff0000" stroke-width="1.1" fill="none"/>
<path d="M109.14 634.23L109.14 630.03M109.14 634.23L105.15 632.93M109.14 634.23L106.67 637.63M109.14 634.23L111.61 637.63M109.14 634.23L113.13 632.93" stroke="#ff0000" stroke-width="1.1" fill="none"/>
<path d="M120.71 634.21L120.71 630.01M120.71 634.21L116.72 632.91M120.71 634.21L118.24 637.6M120.71 634.21L123.18 637.6M120.71 634.21L124.7 632.91" stroke="#ff0000" stroke-width="1.1" fill="none"/>
<path d="M132.28 634.18L132.28 629.98M132.28 634.18L128.29 632.89M132.28 634.18L129.81 637.58M132.28 634.18L134.75 637.58M132.28 634.18L136.27 632.89" stroke="#ff0000" stroke-width="1.1" fill="none"/>
<path d="M143.85 634.16L143.85 629.96M143.85 634.16L139.86 632.86M143.85 634.16L141.38 637.56M143.85 634.16L146.32 637.56M143.85 634.16L147.84 632.86" stroke="#ff0000" stroke-width="1.1" fill="none"/>
<path d="M155.42 634.14L155.42 629.94M155.42 634.14L151.43 632.84M155.42 634.14L152.95 637.54M155.42 634.14L157.89 637.54M155.42 634.14L159.41 632.84" stroke="#ff0000" stroke-width="1.1" fill="none"/>
<path d="M166.99 634.12L166.99 629.92M166.99 634.12L163 632.82M166.99 634.12L164.52 637.52M166.99 634.12L169.46 637.52M166.99 634.12L170.98 632.82" stroke="#ff0000" stroke-width="1.1" fill="none"/>
<path d="M178.56 634.1L178.56 629.9M178.56 634.1L174.57 632.8M178.56 634.1L176.09 637.49M178.56 634.1L181.03 637.49M178.56 634.1L182.55 632.8" stroke="#ff0000" stroke-width="1.1" fill="none"/>
<path d="M190.13 634.07L190.13 629.87M190.13 634.07L186.14 632.78M190.13 634.07L187.66 637.47M190.13 634.07L192.6 637.47M190.13 634.07L194.12 632.78" stroke="#ff0000" stroke-width="1.1" fill="none"/>
<path d="M201.7 634.05L201.7 629.85M201.7 634.05L197.71 632.75M201.7 634.05L199.23 637.45M201.7 634.05L204.17 637.45M201.7 634.05L205.69 632.75" stroke="#ff0000" stroke-width="1.1" fill="none"/>
<path d="M224.84 634.05L224.84 629.85M224.84 634.05L220.85 632.75M224.84 634.05L222.37 637.45M224.84 634.05L227.31 637.45M224.84 634.05L228.83 632.75" stroke="#ff0000" stroke-width="1.1" fill="none"/>
<path d="M247.98 634.05L247.98 629.85M247.98 634.05L243.99 632.75M247.98 634.05L245.51 637.45M247.98 634.05L250.45 637.45M247.98 634.05L251.97 632.75" stroke="#ff0000" stroke-width="1.1" fill="none"/>
<path d="M271.12 633.95L271.12 629.75M271.12 633.95L267.13 632.65M271.12 633.95L268.65 637.35M271.12 633.95L273.59 637.35M271.12 633.95L275.11 632.65" stroke="#ff0000" stroke-width="1.1" fill="none"/>
<path d="M294.26 633.95L294.26 629.75M294.26 633.95L290.27 632.65M294.26 633.95L291.79 637.35M294.26 633.95L296.73 637.35M294.26 633.95L298.25 632.65" stroke="#ff0000" stroke-width="1.1" fill="none"/>
<path d="M317.4 633.95L317.4 629.75M317.4 633.95L313.41 632.65M317.4 633.95L314.93 637.35M317.4 633.95L319.87 637.35M317.4 633.95L321.39 632.65" stroke="#ff0000" stroke-width="1.1" fill="none"/>
</g>
<polyline points="343.7,293 358.01,307.1 372.31,310.3 386.62,309.3 415.23,300.8 443.84,286.9 501.06,246.9 558.28,189" fill="none" stroke="#1a1a1a" stroke-width="1.1" stroke-dasharray="0.1 4.7" stroke-dashoffset="0" stroke-linecap="round"/>
<circle cx="343.7" cy="293" r="1.7" fill="none" stroke="#1a1a1a" stroke-width="0.75"/>
<circle cx="358.01" cy="307.1" r="1.7" fill="none" stroke="#1a1a1a" stroke-width="0.75"/>
<circle cx="372.31" cy="310.3" r="1.7" fill="none" stroke="#1a1a1a" stroke-width="0.75"/>
<circle cx="386.62" cy="309.3" r="1.7" fill="none" stroke="#1a1a1a" stroke-width="0.75"/>
<circle cx="415.23" cy="300.8" r="1.7" fill="none" stroke="#1a1a1a" stroke-width="0.75"/>
<circle cx="443.84" cy="286.9" r="1.7" fill="none" stroke="#1a1a1a" stroke-width="0.75"/>
<circle cx="501.06" cy="246.9" r="1.7" fill="none" stroke="#1a1a1a" stroke-width="0.75"/>
<circle cx="558.28" cy="189" r="1.7" fill="none" stroke="#1a1a1a" stroke-width="0.75"/>
<polyline points="343.7,303.4 358.01,316 372.31,318.5 386.62,317.4 415.23,309.4 443.84,295.8 501.06,257.4 558.28,202.5" fill="none" stroke="#a0a0a0" stroke-width="1.45" stroke-dasharray="0.1 4.7" stroke-dashoffset="0" stroke-linecap="round"/>
<circle cx="343.7" cy="303.4" r="1.7" fill="none" stroke="#a0a0a0" stroke-width="1.05"/>
<circle cx="358.01" cy="316" r="1.7" fill="none" stroke="#a0a0a0" stroke-width="1.05"/>
<circle cx="372.31" cy="318.5" r="1.7" fill="none" stroke="#a0a0a0" stroke-width="1.05"/>
<circle cx="386.62" cy="317.4" r="1.7" fill="none" stroke="#a0a0a0" stroke-width="1.05"/>
<circle cx="415.23" cy="309.4" r="1.7" fill="none" stroke="#a0a0a0" stroke-width="1.05"/>
<circle cx="443.84" cy="295.8" r="1.7" fill="none" stroke="#a0a0a0" stroke-width="1.05"/>
<circle cx="501.06" cy="257.4" r="1.7" fill="none" stroke="#a0a0a0" stroke-width="1.05"/>
<circle cx="558.28" cy="202.5" r="1.7" fill="none" stroke="#a0a0a0" stroke-width="1.05"/>
<polyline points="343.7,312.1 358.01,323.1 372.31,325.5 386.62,324.1 415.23,316.5 443.84,303.4 501.06,267 558.28,214.1" fill="none" stroke="#1a1a1a" stroke-width="0.7" stroke-dasharray="20.5 5.9" stroke-dashoffset="-1"/>
<circle cx="343.7" cy="312.1" r="1.7" fill="none" stroke="#1a1a1a" stroke-width="0.75"/>
<circle cx="358.01" cy="323.1" r="1.7" fill="none" stroke="#1a1a1a" stroke-width="0.75"/>
<circle cx="372.31" cy="325.5" r="1.7" fill="none" stroke="#1a1a1a" stroke-width="0.75"/>
<circle cx="386.62" cy="324.1" r="1.7" fill="none" stroke="#1a1a1a" stroke-width="0.75"/>
<circle cx="415.23" cy="316.5" r="1.7" fill="none" stroke="#1a1a1a" stroke-width="0.75"/>
<circle cx="443.84" cy="303.4" r="1.7" fill="none" stroke="#1a1a1a" stroke-width="0.75"/>
<circle cx="501.06" cy="267" r="1.7" fill="none" stroke="#1a1a1a" stroke-width="0.75"/>
<circle cx="558.28" cy="214.1" r="1.7" fill="none" stroke="#1a1a1a" stroke-width="0.75"/>
<polyline points="343.7,319.9 358.01,329.5 372.31,331.3 386.62,330 415.23,322.3 443.84,309.8 501.06,274.3 558.28,224" fill="none" stroke="#a0a0a0" stroke-width="1.3" stroke-dasharray="20.3 6.2" stroke-dashoffset="-0.5"/>
<circle cx="343.7" cy="319.9" r="1.7" fill="none" stroke="#a0a0a0" stroke-width="1.05"/>
<circle cx="358.01" cy="329.5" r="1.7" fill="none" stroke="#a0a0a0" stroke-width="1.05"/>
<circle cx="372.31" cy="331.3" r="1.7" fill="none" stroke="#a0a0a0" stroke-width="1.05"/>
<circle cx="386.62" cy="330" r="1.7" fill="none" stroke="#a0a0a0" stroke-width="1.05"/>
<circle cx="415.23" cy="322.3" r="1.7" fill="none" stroke="#a0a0a0" stroke-width="1.05"/>
<circle cx="443.84" cy="309.8" r="1.7" fill="none" stroke="#a0a0a0" stroke-width="1.05"/>
<circle cx="501.06" cy="274.3" r="1.7" fill="none" stroke="#a0a0a0" stroke-width="1.05"/>
<circle cx="558.28" cy="224" r="1.7" fill="none" stroke="#a0a0a0" stroke-width="1.05"/>
<polyline points="343.7,326.3 358.01,335.1 372.31,336.9 386.62,335.1 415.23,327.9 443.84,315.7 501.06,280.9 558.28,232.6" fill="none" stroke="#1a1a1a" stroke-width="0.7"/>
<circle cx="343.7" cy="326.3" r="1.7" fill="none" stroke="#1a1a1a" stroke-width="0.75"/>
<circle cx="358.01" cy="335.1" r="1.7" fill="none" stroke="#1a1a1a" stroke-width="0.75"/>
<circle cx="372.31" cy="336.9" r="1.7" fill="none" stroke="#1a1a1a" stroke-width="0.75"/>
<circle cx="386.62" cy="335.1" r="1.7" fill="none" stroke="#1a1a1a" stroke-width="0.75"/>
<circle cx="415.23" cy="327.9" r="1.7" fill="none" stroke="#1a1a1a" stroke-width="0.75"/>
<circle cx="443.84" cy="315.7" r="1.7" fill="none" stroke="#1a1a1a" stroke-width="0.75"/>
<circle cx="501.06" cy="280.9" r="1.7" fill="none" stroke="#1a1a1a" stroke-width="0.75"/>
<circle cx="558.28" cy="232.6" r="1.7" fill="none" stroke="#1a1a1a" stroke-width="0.75"/>
<polyline points="343.7,339 358.01,346 372.31,346.8 386.62,345.1 415.23,338 443.84,327.1 501.06,295 558.28,249.7" fill="none" stroke="#a0a0a0" stroke-width="1.3" stroke-dasharray="8.1 6.5" stroke-dashoffset="2"/>
<circle cx="343.7" cy="339" r="1.7" fill="none" stroke="#a0a0a0" stroke-width="1.05"/>
<circle cx="358.01" cy="346" r="1.7" fill="none" stroke="#a0a0a0" stroke-width="1.05"/>
<circle cx="372.31" cy="346.8" r="1.7" fill="none" stroke="#a0a0a0" stroke-width="1.05"/>
<circle cx="386.62" cy="345.1" r="1.7" fill="none" stroke="#a0a0a0" stroke-width="1.05"/>
<circle cx="415.23" cy="338" r="1.7" fill="none" stroke="#a0a0a0" stroke-width="1.05"/>
<circle cx="443.84" cy="327.1" r="1.7" fill="none" stroke="#a0a0a0" stroke-width="1.05"/>
<circle cx="501.06" cy="295" r="1.7" fill="none" stroke="#a0a0a0" stroke-width="1.05"/>
<circle cx="558.28" cy="249.7" r="1.7" fill="none" stroke="#a0a0a0" stroke-width="1.05"/>
<polyline points="343.7,349.4 358.01,354.5 372.31,355 386.62,353.2 415.23,345.9 443.84,335.2 501.06,305.4 558.28,263" fill="none" stroke="#1a1a1a" stroke-width="0.7" stroke-dasharray="8.1 6.3" stroke-dashoffset="0"/>
<circle cx="343.7" cy="349.4" r="1.7" fill="none" stroke="#1a1a1a" stroke-width="0.75"/>
<circle cx="358.01" cy="354.5" r="1.7" fill="none" stroke="#1a1a1a" stroke-width="0.75"/>
<circle cx="372.31" cy="355" r="1.7" fill="none" stroke="#1a1a1a" stroke-width="0.75"/>
<circle cx="386.62" cy="353.2" r="1.7" fill="none" stroke="#1a1a1a" stroke-width="0.75"/>
<circle cx="415.23" cy="345.9" r="1.7" fill="none" stroke="#1a1a1a" stroke-width="0.75"/>
<circle cx="443.84" cy="335.2" r="1.7" fill="none" stroke="#1a1a1a" stroke-width="0.75"/>
<circle cx="501.06" cy="305.4" r="1.7" fill="none" stroke="#1a1a1a" stroke-width="0.75"/>
<circle cx="558.28" cy="263" r="1.7" fill="none" stroke="#1a1a1a" stroke-width="0.75"/>
<polyline points="343.7,461.12 358.01,484.81 372.31,516.8 386.62,544.98 415.23,584.97 443.84,609.27 501.06,628.9 558.28,634.23" fill="none" stroke="#1a1a1a" stroke-width="1.1" stroke-dasharray="0.1 4.7" stroke-dashoffset="0" stroke-linecap="round"/>
<circle cx="343.7" cy="461.12" r="1.7" fill="none" stroke="#1a1a1a" stroke-width="0.75"/>
<circle cx="358.01" cy="484.81" r="1.7" fill="none" stroke="#1a1a1a" stroke-width="0.75"/>
<circle cx="372.31" cy="516.8" r="1.7" fill="none" stroke="#1a1a1a" stroke-width="0.75"/>
<circle cx="386.62" cy="544.98" r="1.7" fill="none" stroke="#1a1a1a" stroke-width="0.75"/>
<circle cx="415.23" cy="584.97" r="1.7" fill="none" stroke="#1a1a1a" stroke-width="0.75"/>
<circle cx="443.84" cy="609.27" r="1.7" fill="none" stroke="#1a1a1a" stroke-width="0.75"/>
<circle cx="501.06" cy="628.9" r="1.7" fill="none" stroke="#1a1a1a" stroke-width="0.75"/>
<circle cx="558.28" cy="634.23" r="1.7" fill="none" stroke="#1a1a1a" stroke-width="0.75"/>
<polyline points="343.7,453.32 358.01,477.11 372.31,510.1 386.62,539.99 415.23,582.17 443.84,607.35 501.06,628.59 558.28,634.18" fill="none" stroke="#a0a0a0" stroke-width="1.45" stroke-dasharray="0.1 4.7" stroke-dashoffset="0" stroke-linecap="round"/>
<circle cx="343.7" cy="453.32" r="1.7" fill="none" stroke="#a0a0a0" stroke-width="1.05"/>
<circle cx="358.01" cy="477.11" r="1.7" fill="none" stroke="#a0a0a0" stroke-width="1.05"/>
<circle cx="372.31" cy="510.1" r="1.7" fill="none" stroke="#a0a0a0" stroke-width="1.05"/>
<circle cx="386.62" cy="539.99" r="1.7" fill="none" stroke="#a0a0a0" stroke-width="1.05"/>
<circle cx="415.23" cy="582.17" r="1.7" fill="none" stroke="#a0a0a0" stroke-width="1.05"/>
<circle cx="443.84" cy="607.35" r="1.7" fill="none" stroke="#a0a0a0" stroke-width="1.05"/>
<circle cx="501.06" cy="628.59" r="1.7" fill="none" stroke="#a0a0a0" stroke-width="1.05"/>
<circle cx="558.28" cy="634.18" r="1.7" fill="none" stroke="#a0a0a0" stroke-width="1.05"/>
<polyline points="343.7,447.02 358.01,470.41 372.31,503.5 386.62,534.99 415.23,579.57 443.84,605.58 501.06,628.28 558.28,634.14" fill="none" stroke="#1a1a1a" stroke-width="0.7" stroke-dasharray="20.5 5.9" stroke-dashoffset="-1"/>
<circle cx="343.7" cy="447.02" r="1.7" fill="none" stroke="#1a1a1a" stroke-width="0.75"/>
<circle cx="358.01" cy="470.41" r="1.7" fill="none" stroke="#1a1a1a" stroke-width="0.75"/>
<circle cx="372.31" cy="503.5" r="1.7" fill="none" stroke="#1a1a1a" stroke-width="0.75"/>
<circle cx="386.62" cy="534.99" r="1.7" fill="none" stroke="#1a1a1a" stroke-width="0.75"/>
<circle cx="415.23" cy="579.57" r="1.7" fill="none" stroke="#1a1a1a" stroke-width="0.75"/>
<circle cx="443.84" cy="605.58" r="1.7" fill="none" stroke="#1a1a1a" stroke-width="0.75"/>
<circle cx="501.06" cy="628.28" r="1.7" fill="none" stroke="#1a1a1a" stroke-width="0.75"/>
<circle cx="558.28" cy="634.14" r="1.7" fill="none" stroke="#1a1a1a" stroke-width="0.75"/>
<polyline points="343.7,441.22 358.01,464.22 372.31,497.7 386.62,530.09 415.23,577.37 443.84,604.07 501.06,627.96 558.28,634.1" fill="none" stroke="#a0a0a0" stroke-width="1.3" stroke-dasharray="20.3 6.2" stroke-dashoffset="-0.5"/>
<circle cx="343.7" cy="441.22" r="1.7" fill="none" stroke="#a0a0a0" stroke-width="1.05"/>
<circle cx="358.01" cy="464.22" r="1.7" fill="none" stroke="#a0a0a0" stroke-width="1.05"/>
<circle cx="372.31" cy="497.7" r="1.7" fill="none" stroke="#a0a0a0" stroke-width="1.05"/>
<circle cx="386.62" cy="530.09" r="1.7" fill="none" stroke="#a0a0a0" stroke-width="1.05"/>
<circle cx="415.23" cy="577.37" r="1.7" fill="none" stroke="#a0a0a0" stroke-width="1.05"/>
<circle cx="443.84" cy="604.07" r="1.7" fill="none" stroke="#a0a0a0" stroke-width="1.05"/>
<circle cx="501.06" cy="627.96" r="1.7" fill="none" stroke="#a0a0a0" stroke-width="1.05"/>
<circle cx="558.28" cy="634.1" r="1.7" fill="none" stroke="#a0a0a0" stroke-width="1.05"/>
<polyline points="343.7,436.13 358.01,457.42 372.31,493.8 386.62,525.79 415.23,574.87 443.84,602.36 501.06,627.65 558.28,634.05" fill="none" stroke="#1a1a1a" stroke-width="0.7"/>
<circle cx="343.7" cy="436.13" r="1.7" fill="none" stroke="#1a1a1a" stroke-width="0.75"/>
<circle cx="358.01" cy="457.42" r="1.7" fill="none" stroke="#1a1a1a" stroke-width="0.75"/>
<circle cx="372.31" cy="493.8" r="1.7" fill="none" stroke="#1a1a1a" stroke-width="0.75"/>
<circle cx="386.62" cy="525.79" r="1.7" fill="none" stroke="#1a1a1a" stroke-width="0.75"/>
<circle cx="415.23" cy="574.87" r="1.7" fill="none" stroke="#1a1a1a" stroke-width="0.75"/>
<circle cx="443.84" cy="602.36" r="1.7" fill="none" stroke="#1a1a1a" stroke-width="0.75"/>
<circle cx="501.06" cy="627.65" r="1.7" fill="none" stroke="#1a1a1a" stroke-width="0.75"/>
<circle cx="558.28" cy="634.05" r="1.7" fill="none" stroke="#1a1a1a" stroke-width="0.75"/>
<polyline points="343.7,423.93 358.01,445.62 372.31,483.01 386.62,517.39 415.23,569.51 443.84,600.34 501.06,626.56 558.28,634" fill="none" stroke="#a0a0a0" stroke-width="1.3" stroke-dasharray="8.1 6.5" stroke-dashoffset="2"/>
<circle cx="343.7" cy="423.93" r="1.7" fill="none" stroke="#a0a0a0" stroke-width="1.05"/>
<circle cx="358.01" cy="445.62" r="1.7" fill="none" stroke="#a0a0a0" stroke-width="1.05"/>
<circle cx="372.31" cy="483.01" r="1.7" fill="none" stroke="#a0a0a0" stroke-width="1.05"/>
<circle cx="386.62" cy="517.39" r="1.7" fill="none" stroke="#a0a0a0" stroke-width="1.05"/>
<circle cx="415.23" cy="569.51" r="1.7" fill="none" stroke="#a0a0a0" stroke-width="1.05"/>
<circle cx="443.84" cy="600.34" r="1.7" fill="none" stroke="#a0a0a0" stroke-width="1.05"/>
<circle cx="501.06" cy="626.56" r="1.7" fill="none" stroke="#a0a0a0" stroke-width="1.05"/>
<circle cx="558.28" cy="634" r="1.7" fill="none" stroke="#a0a0a0" stroke-width="1.05"/>
<polyline points="343.7,416.83 358.01,436.53 372.31,472.91 386.62,510.1 415.23,564.48 443.84,597.46 501.06,625.45 558.28,633.95" fill="none" stroke="#1a1a1a" stroke-width="0.7" stroke-dasharray="8.1 6.3" stroke-dashoffset="0"/>
<circle cx="343.7" cy="416.83" r="1.7" fill="none" stroke="#1a1a1a" stroke-width="0.75"/>
<circle cx="358.01" cy="436.53" r="1.7" fill="none" stroke="#1a1a1a" stroke-width="0.75"/>
<circle cx="372.31" cy="472.91" r="1.7" fill="none" stroke="#1a1a1a" stroke-width="0.75"/>
<circle cx="386.62" cy="510.1" r="1.7" fill="none" stroke="#1a1a1a" stroke-width="0.75"/>
<circle cx="415.23" cy="564.48" r="1.7" fill="none" stroke="#1a1a1a" stroke-width="0.75"/>
<circle cx="443.84" cy="597.46" r="1.7" fill="none" stroke="#1a1a1a" stroke-width="0.75"/>
<circle cx="501.06" cy="625.45" r="1.7" fill="none" stroke="#1a1a1a" stroke-width="0.75"/>
<circle cx="558.28" cy="633.95" r="1.7" fill="none" stroke="#1a1a1a" stroke-width="0.75"/>
<g opacity="0.999">
<text x="86" y="142.8" font-size="12.8" text-anchor="middle" fill="#3c3c3c" font-family="'Liberation Sans', sans-serif" textLength="6.6" lengthAdjust="spacing">0</text>
<text x="86" y="652" font-size="12.8" text-anchor="middle" fill="#3c3c3c" font-family="'Liberation Sans', sans-serif" textLength="6.6" lengthAdjust="spacing">0</text>
<text x="143.85" y="142.8" font-size="12.8" text-anchor="middle" fill="#3c3c3c" font-family="'Liberation Sans', sans-serif" textLength="20" lengthAdjust="spacing">0.5</text>
<text x="143.85" y="652" font-size="12.8" text-anchor="middle" fill="#3c3c3c" font-family="'Liberation Sans', sans-serif" textLength="20" lengthAdjust="spacing">0.5</text>
<text x="201.7" y="142.8" font-size="12.8" text-anchor="middle" fill="#3c3c3c" font-family="'Liberation Sans', sans-serif" textLength="5.4" lengthAdjust="spacing">1</text>
<text x="201.7" y="652" font-size="12.8" text-anchor="middle" fill="#3c3c3c" font-family="'Liberation Sans', sans-serif" textLength="5.4" lengthAdjust="spacing">1</text>
<text x="259.55" y="142.8" font-size="12.8" text-anchor="middle" fill="#3c3c3c" font-family="'Liberation Sans', sans-serif" textLength="18.7" lengthAdjust="spacing">1.5</text>
<text x="259.55" y="652" font-size="12.8" text-anchor="middle" fill="#3c3c3c" font-family="'Liberation Sans', sans-serif" textLength="18.7" lengthAdjust="spacing">1.5</text>
<text x="317.4" y="142.8" font-size="12.8" text-anchor="middle" fill="#3c3c3c" font-family="'Liberation Sans', sans-serif" textLength="6.6" lengthAdjust="spacing">2</text>
<text x="317.4" y="652" font-size="12.8" text-anchor="middle" fill="#3c3c3c" font-family="'Liberation Sans', sans-serif" textLength="6.6" lengthAdjust="spacing">2</text>
<text x="329.4" y="142.8" font-size="12.8" text-anchor="middle" fill="#3c3c3c" font-family="'Liberation Sans', sans-serif" textLength="6.6" lengthAdjust="spacing">0</text>
<text x="329.4" y="652" font-size="12.8" text-anchor="middle" fill="#3c3c3c" font-family="'Liberation Sans', sans-serif" textLength="6.6" lengthAdjust="spacing">0</text>
<text x="386.62" y="142.8" font-size="12.8" text-anchor="middle" fill="#3c3c3c" font-family="'Liberation Sans', sans-serif" textLength="6.6" lengthAdjust="spacing">2</text>
<text x="386.62" y="652" font-size="12.8" text-anchor="middle" fill="#3c3c3c" font-family="'Liberation Sans', sans-serif" textLength="6.6" lengthAdjust="spacing">2</text>
<text x="443.84" y="142.8" font-size="12.8" text-anchor="middle" fill="#3c3c3c" font-family="'Liberation Sans', sans-serif" textLength="7.1" lengthAdjust="spacing">4</text>
<text x="443.84" y="652" font-size="12.8" text-anchor="middle" fill="#3c3c3c" font-family="'Liberation Sans', sans-serif" textLength="7.1" lengthAdjust="spacing">4</text>
<text x="501.06" y="142.8" font-size="12.8" text-anchor="middle" fill="#3c3c3c" font-family="'Liberation Sans', sans-serif" textLength="6.6" lengthAdjust="spacing">6</text>
<text x="501.06" y="652" font-size="12.8" text-anchor="middle" fill="#3c3c3c" font-family="'Liberation Sans', sans-serif" textLength="6.6" lengthAdjust="spacing">6</text>
<text x="558.28" y="142.8" font-size="12.8" text-anchor="middle" fill="#3c3c3c" font-family="'Liberation Sans', sans-serif" textLength="6.6" lengthAdjust="spacing">8</text>
<text x="558.28" y="652" font-size="12.8" text-anchor="middle" fill="#3c3c3c" font-family="'Liberation Sans', sans-serif" textLength="6.6" lengthAdjust="spacing">8</text>
<text x="78.3" y="397.4" font-size="12.8" text-anchor="end" fill="#3c3c3c" font-family="'Liberation Sans', sans-serif" textLength="14.8" lengthAdjust="spacing">50</text>
<text x="580.8" y="397.4" font-size="12.8" text-anchor="start" fill="#3c3c3c" font-family="'Liberation Sans', sans-serif" textLength="14.8" lengthAdjust="spacing">50</text>
<text x="78.3" y="325.99" font-size="12.8" text-anchor="end" fill="#3c3c3c" font-family="'Liberation Sans', sans-serif" textLength="22.3" lengthAdjust="spacing">100</text>
<text x="580.8" y="325.99" font-size="12.8" text-anchor="start" fill="#3c3c3c" font-family="'Liberation Sans', sans-serif" textLength="22.3" lengthAdjust="spacing">100</text>
<text x="78.3" y="254.58" font-size="12.8" text-anchor="end" fill="#3c3c3c" font-family="'Liberation Sans', sans-serif" textLength="22.3" lengthAdjust="spacing">150</text>
<text x="580.8" y="254.58" font-size="12.8" text-anchor="start" fill="#3c3c3c" font-family="'Liberation Sans', sans-serif" textLength="22.3" lengthAdjust="spacing">150</text>
<text x="78.3" y="183.17" font-size="12.8" text-anchor="end" fill="#3c3c3c" font-family="'Liberation Sans', sans-serif" textLength="23.2" lengthAdjust="spacing">200</text>
<text x="580.8" y="183.17" font-size="12.8" text-anchor="start" fill="#3c3c3c" font-family="'Liberation Sans', sans-serif" textLength="23.2" lengthAdjust="spacing">200</text>
<text x="78.3" y="640.35" font-size="12.8" text-anchor="end" fill="#3c3c3c" font-family="'Liberation Sans', sans-serif" textLength="6.6" lengthAdjust="spacing">0</text>
<text x="580.8" y="640.35" font-size="12.8" text-anchor="start" fill="#3c3c3c" font-family="'Liberation Sans', sans-serif" textLength="6.6" lengthAdjust="spacing">0</text>
<text x="78.3" y="585.19" font-size="12.8" text-anchor="end" fill="#3c3c3c" font-family="'Liberation Sans', sans-serif" textLength="20" lengthAdjust="spacing">0.5</text>
<text x="580.8" y="585.19" font-size="12.8" text-anchor="start" fill="#3c3c3c" font-family="'Liberation Sans', sans-serif" textLength="20" lengthAdjust="spacing">0.5</text>
<text x="78.3" y="530.03" font-size="12.8" text-anchor="end" fill="#3c3c3c" font-family="'Liberation Sans', sans-serif" textLength="5.4" lengthAdjust="spacing">1</text>
<text x="580.8" y="530.03" font-size="12.8" text-anchor="start" fill="#3c3c3c" font-family="'Liberation Sans', sans-serif" textLength="5.4" lengthAdjust="spacing">1</text>
<text x="78.3" y="474.87" font-size="12.8" text-anchor="end" fill="#3c3c3c" font-family="'Liberation Sans', sans-serif" textLength="18.7" lengthAdjust="spacing">1.5</text>
<text x="580.8" y="474.87" font-size="12.8" text-anchor="start" fill="#3c3c3c" font-family="'Liberation Sans', sans-serif" textLength="18.7" lengthAdjust="spacing">1.5</text>
<text x="78.3" y="419.71" font-size="12.8" text-anchor="end" fill="#3c3c3c" font-family="'Liberation Sans', sans-serif" textLength="6.6" lengthAdjust="spacing">2</text>
<text x="580.8" y="419.71" font-size="12.8" text-anchor="start" fill="#3c3c3c" font-family="'Liberation Sans', sans-serif" textLength="6.6" lengthAdjust="spacing">2</text>
<text x="208" y="114.8" font-size="16" text-anchor="middle" fill="#111" font-family="'Liberation Serif', serif" textLength="9.3" lengthAdjust="spacingAndGlyphs">q</text>
<text x="451" y="116" font-size="16" text-anchor="middle" fill="#111" font-family="'Liberation Serif', serif" textLength="9.8" lengthAdjust="spacingAndGlyphs">n</text>
<text x="208" y="675.8" font-size="16" text-anchor="middle" fill="#111" font-family="'Liberation Serif', serif" textLength="9.3" lengthAdjust="spacingAndGlyphs">q</text>
<text x="451" y="677.1" font-size="16" text-anchor="middle" fill="#111" font-family="'Liberation Serif', serif" textLength="9.8" lengthAdjust="spacingAndGlyphs">n</text>
<text x="132.7" y="194" font-size="12.2" text-anchor="start" fill="#ff0000" font-family="'Liberation Serif', serif" textLength="22.8" lengthAdjust="spacing">n=8</text>
<text x="132.7" y="251" font-size="12.2" text-anchor="start" fill="#ffb400" font-family="'Liberation Serif', serif" textLength="22.8" lengthAdjust="spacing">n=6</text>
<text x="132.7" y="290" font-size="12.2" text-anchor="start" fill="#00ee00" font-family="'Liberation Serif', serif" textLength="22.8" lengthAdjust="spacing">n=4</text>
<text x="104.3" y="445.7" font-size="12.2" text-anchor="start" fill="#222" font-family="'Liberation Serif', serif" textLength="33" lengthAdjust="spacing">n=0.5</text>
<text x="109.4" y="499.8" font-size="12.2" text-anchor="start" fill="#ff00ff" font-family="'Liberation Serif', serif" textLength="22" lengthAdjust="spacing">n=1</text>
<text x="109.4" y="531.8" font-size="12.2" text-anchor="start" fill="#0000ff" font-family="'Liberation Serif', serif" textLength="22.7" lengthAdjust="spacing">n=2</text>
<text x="109.4" y="573.8" font-size="12.2" text-anchor="start" fill="#00f0f0" font-family="'Liberation Serif', serif" textLength="22.7" lengthAdjust="spacing">n=3</text>
<text x="348.7" y="173.9" font-size="12.2" text-anchor="start" fill="#222" font-family="'Liberation Serif', serif" textLength="32.5" lengthAdjust="spacing">q=0.2</text>
<text x="348.7" y="188.2" font-size="12.2" text-anchor="start" fill="#b0b0b0" font-family="'Liberation Serif', serif" textLength="32.5" lengthAdjust="spacing">q=0.4</text>
<text x="348.7" y="202.5" font-size="12.2" text-anchor="start" fill="#222" font-family="'Liberation Serif', serif" textLength="32.5" lengthAdjust="spacing">q=0.6</text>
<text x="348.7" y="216.8" font-size="12.2" text-anchor="start" fill="#b0b0b0" font-family="'Liberation Serif', serif" textLength="32.5" lengthAdjust="spacing">q=0.8</text>
<text x="348.7" y="231.1" font-size="12.2" text-anchor="start" fill="#222" font-family="'Liberation Serif', serif" textLength="32.5" lengthAdjust="spacing">q=1.0</text>
<text x="348.7" y="245.4" font-size="12.2" text-anchor="start" fill="#b0b0b0" font-family="'Liberation Serif', serif" textLength="32.5" lengthAdjust="spacing">q=1.5</text>
<text x="348.7" y="259.7" font-size="12.2" text-anchor="start" fill="#222" font-family="'Liberation Serif', serif" textLength="32.5" lengthAdjust="spacing">q=2.0</text>
<text x="513.4" y="417.7" font-size="12.2" text-anchor="start" fill="#222" font-family="'Liberation Serif', serif" textLength="32.6" lengthAdjust="spacing">q=2.0</text>
<text x="513.4" y="456.5" font-size="12.2" text-anchor="start" fill="#222" font-family="'Liberation Serif', serif" textLength="32.6" lengthAdjust="spacing">q=0.2</text>
<line x1="524.4" y1="425" x2="524.4" y2="446" stroke="#222" stroke-width="0.8" stroke-dasharray="1.5 3.3"/>
<text font-size="16.7" fill="#222" text-anchor="middle" font-family="'Liberation Serif', serif" textLength="9.6" lengthAdjust="spacingAndGlyphs" transform="translate(42.6 317.4) rotate(-90)">V</text>
<text font-size="10.3" fill="#222" text-anchor="middle" font-family="'Liberation Serif', serif" textLength="22.6" lengthAdjust="spacing" transform="translate(47.1 300.5) rotate(-90)">peak</text>
<text font-size="16.7" fill="#222" text-anchor="middle" font-family="'Liberation Serif', serif" transform="translate(42.6 277.1) rotate(-90)">(</text>
<text font-size="16.7" fill="#222" text-anchor="middle" font-family="'Liberation Serif', serif" textLength="10" lengthAdjust="spacingAndGlyphs" transform="translate(42.6 267.1) rotate(-90)">k</text>
<text font-size="16.7" fill="#222" text-anchor="middle" font-family="'Liberation Serif', serif" textLength="12.6" lengthAdjust="spacingAndGlyphs" transform="translate(42.6 253.9) rotate(-90)">m</text>
<text font-size="16.7" fill="#222" text-anchor="middle" font-family="'Liberation Serif', serif" transform="translate(42.6 232) rotate(-90)">s</text>
<text font-size="16.7" fill="#222" text-anchor="middle" font-family="'Liberation Serif', serif" transform="translate(42.6 224.5) rotate(-90)">)</text>
<text font-size="16.7" fill="#222" text-anchor="middle" font-family="'Liberation Serif', serif" textLength="9.6" lengthAdjust="spacingAndGlyphs" transform="translate(616.2 225.6) rotate(90)">V</text>
<text font-size="10.3" fill="#222" text-anchor="middle" font-family="'Liberation Serif', serif" textLength="22.6" lengthAdjust="spacing" transform="translate(611.3 242.5) rotate(90)">peak</text>
<text font-size="16.7" fill="#222" text-anchor="middle" font-family="'Liberation Serif', serif" transform="translate(616.2 265.9) rotate(90)">(</text>
<text font-size="16.7" fill="#222" text-anchor="middle" font-family="'Liberation Serif', serif" textLength="10" lengthAdjust="spacingAndGlyphs" transform="translate(616.2 275.9) rotate(90)">k</text>
<text font-size="16.7" fill="#222" text-anchor="middle" font-family="'Liberation Serif', serif" textLength="12.6" lengthAdjust="spacingAndGlyphs" transform="translate(616.2 289.1) rotate(90)">m</text>
<text font-size="16.7" fill="#222" text-anchor="middle" font-family="'Liberation Serif', serif" transform="translate(616.2 311) rotate(90)">s</text>
<text font-size="16.7" fill="#222" text-anchor="middle" font-family="'Liberation Serif', serif" transform="translate(616.2 318.5) rotate(90)">)</text>
<line x1="45.6" y1="246.1" x2="29.9" y2="237.2" stroke="#222" stroke-width="0.85"/>
<line x1="613.1" y1="296.9" x2="628.8" y2="305.8" stroke="#222" stroke-width="0.85"/>
<text font-size="16.7" fill="#222" text-anchor="middle" font-family="'Liberation Serif', serif" textLength="9.4" lengthAdjust="spacingAndGlyphs" transform="translate(42.6 543.8) rotate(-90)">R</text>
<text font-size="10.3" fill="#222" text-anchor="middle" font-family="'Liberation Serif', serif" textLength="22.7" lengthAdjust="spacing" transform="translate(47.1 526.5) rotate(-90)">peak</text>
<text font-size="16.7" fill="#222" text-anchor="middle" font-family="'Liberation Serif', serif" textLength="9.4" lengthAdjust="spacingAndGlyphs" transform="translate(42.6 490.4) rotate(-90)">R</text>
<text font-size="10.3" fill="#222" text-anchor="middle" font-family="'Liberation Serif', serif" transform="translate(47.1 482.5) rotate(-90)">e</text>
<text font-size="16.7" fill="#222" text-anchor="middle" font-family="'Liberation Serif', serif" textLength="9.4" lengthAdjust="spacingAndGlyphs" transform="translate(616.2 485.2) rotate(90)">R</text>
<text font-size="10.3" fill="#222" text-anchor="middle" font-family="'Liberation Serif', serif" textLength="22.7" lengthAdjust="spacing" transform="translate(611.3 502.5) rotate(90)">peak</text>
<text font-size="16.7" fill="#222" text-anchor="middle" font-family="'Liberation Serif', serif" textLength="9.4" lengthAdjust="spacingAndGlyphs" transform="translate(616.2 538.6) rotate(90)">R</text>
<text font-size="10.3" fill="#222" text-anchor="middle" font-family="'Liberation Serif', serif" transform="translate(611.3 546.5) rotate(90)">e</text>
<line x1="45.6" y1="513.6" x2="29.8" y2="505.1" stroke="#222" stroke-width="0.85"/>
<line x1="612.8" y1="515.5" x2="628.4" y2="524.2" stroke="#222" stroke-width="0.85"/>
</g>
</svg>
</body></html>
